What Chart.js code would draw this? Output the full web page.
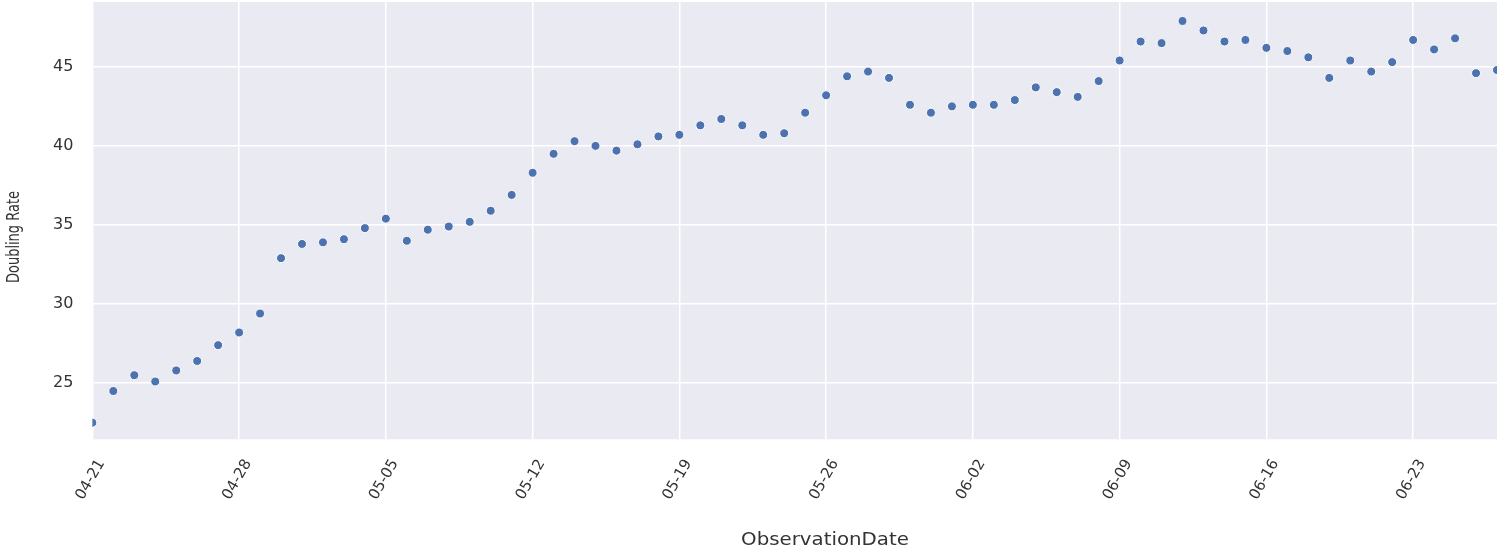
<!DOCTYPE html>
<html>
<head>
<meta charset="utf-8">
<script src="https://cdn.jsdelivr.net/npm/chart.js@4"></script>
<style>
  html, body { margin: 0; padding: 0; background: #ffffff; }
  #wrap { width: 1500px; height: 549px; position: relative; }
</style>
</head>
<body>
<div id="wrap"><canvas id="doublingChart"></canvas></div>
<script>
// Observation dates (MM-DD), one point per day
const observationDates = [
  '04-21', '04-22', '04-23', '04-24', '04-25', '04-26', '04-27', '04-28', '04-29', '04-30',
  '05-01', '05-02', '05-03', '05-04', '05-05', '05-06', '05-07', '05-08', '05-09', '05-10',
  '05-11', '05-12', '05-13', '05-14', '05-15', '05-16', '05-17', '05-18', '05-19', '05-20',
  '05-21', '05-22', '05-23', '05-24', '05-25', '05-26', '05-27', '05-28', '05-29', '05-30',
  '05-31', '06-01', '06-02', '06-03', '06-04', '06-05', '06-06', '06-07', '06-08', '06-09',
  '06-10', '06-11', '06-12', '06-13', '06-14', '06-15', '06-16', '06-17', '06-18', '06-19',
  '06-20', '06-21', '06-22', '06-23', '06-24', '06-25', '06-26', '06-27'
];

// Doubling rate
const doublingRate = [
  22.5, 24.5, 25.5, 25.1, 25.8, 26.4, 27.4, 28.2, 29.4, 32.9,
  33.8, 33.9, 34.1, 34.8, 35.4, 34.0, 34.7, 34.9, 35.2, 35.9,
  36.9, 38.3, 39.5, 40.3, 40.0, 39.7, 40.1, 40.6, 40.7, 41.3,
  41.7, 41.3, 40.7, 40.8, 42.1, 43.2, 44.4, 44.7, 44.3, 42.6,
  42.1, 42.5, 42.6, 42.6, 42.9, 43.7, 43.4, 43.1, 44.1, 45.4,
  46.6, 46.5, 47.9, 47.3, 46.6, 46.7, 46.2, 46.0, 45.6, 44.3,
  45.4, 44.7, 45.3, 46.7, 46.1, 46.8, 44.6, 44.8
];

// Weekly tick labels shown on the x axis
const weeklyTicks = ['04-21', '04-28', '05-05', '05-12', '05-19', '05-26', '06-02', '06-09', '06-16', '06-23'];

// y axis tick values
const yTicks = [25, 30, 35, 40, 45];

// Fill the plot area like seaborn's darkgrid style
const plotBackground = {
  id: 'plotBackground',
  beforeDraw(chart) {
    const { ctx, chartArea } = chart;
    ctx.save();
    ctx.fillStyle = '#eaeaf2';
    ctx.fillRect(chartArea.left, chartArea.top, chartArea.right - chartArea.left, chartArea.bottom - chartArea.top);
    ctx.restore();
  }
};

// Axis titles, drawn by hand so they can be placed and stretched like the source picture
const axisTitles = {
  id: 'axisTitles',
  afterDraw(chart) {
    const { ctx } = chart;
    ctx.save();
    ctx.fillStyle = '#333333';
    ctx.textAlign = 'center';
    ctx.textBaseline = 'middle';

    // y title (glyphs widened across the text direction)
    ctx.save();
    ctx.translate(14, 237);
    ctx.rotate(-Math.PI / 2);
    ctx.scale(1, 1.35);
    ctx.font = '13px "DejaVu Sans"';
    ctx.fillText('Doubling Rate', 0, 0);
    ctx.restore();

    // x title
    ctx.save();
    ctx.translate(825, 540);
    ctx.scale(1.1, 1);
    ctx.font = '18px "DejaVu Sans"';
    ctx.fillText('ObservationDate', 0, 0);
    ctx.restore();

    ctx.restore();
  }
};

const ctx = document.getElementById('doublingChart').getContext('2d');
new Chart(ctx, {
  type: 'line',
  data: {
    labels: observationDates,
    datasets: [{
      data: doublingRate,
      showLine: false,
      pointRadius: 4.5,
      pointHoverRadius: 4.5,
      pointBackgroundColor: '#4c72b0',
      pointBorderColor: '#ffffff',
      pointBorderWidth: 1,
      clip: 0
    }]
  },
  options: {
    responsive: true,
    maintainAspectRatio: false,
    animation: false,
    layout: {
      autoPadding: false,
      padding: { left: 34, right: 3, top: 2, bottom: 29 }
    },
    plugins: {
      legend: { display: false },
      tooltip: { enabled: false }
    },
    scales: {
      x: {
        type: 'category',
        offset: false,
        border: { display: false },
        grid: {
          color: '#ffffff',
          lineWidth: 1.5,
          drawTicks: false
        },
        // labels may hang over the edges, the plot runs edge to edge
        afterFit: (axis) => {
          axis.paddingLeft = 0;
          axis.paddingRight = 0;
        },
        ticks: {
          autoSkip: false,
          minRotation: 60,
          maxRotation: 60,
          padding: 17,
          labelOffset: 9,
          color: '#333333',
          font: { family: 'DejaVu Sans', size: 15 },
          callback: function(value) {
            const label = this.getLabelForValue(value);
            return weeklyTicks.includes(label) ? label : null;
          }
        }
      },
      y: {
        min: 21.45,
        max: 49.1,
        border: { display: false },
        grid: {
          color: '#ffffff',
          lineWidth: 1.5,
          drawTicks: false
        },
        afterBuildTicks: (axis) => {
          axis.ticks = yTicks.map(v => ({ value: v }));
        },
        afterFit: (axis) => {
          axis.paddingTop = 0;
          axis.paddingBottom = 0;
        },
        ticks: {
          padding: 19,
          color: '#333333',
          font: { family: 'DejaVu Sans', size: 16 }
        }
      }
    }
  },
  plugins: [plotBackground, axisTitles]
});
</script>
</body>
</html>
